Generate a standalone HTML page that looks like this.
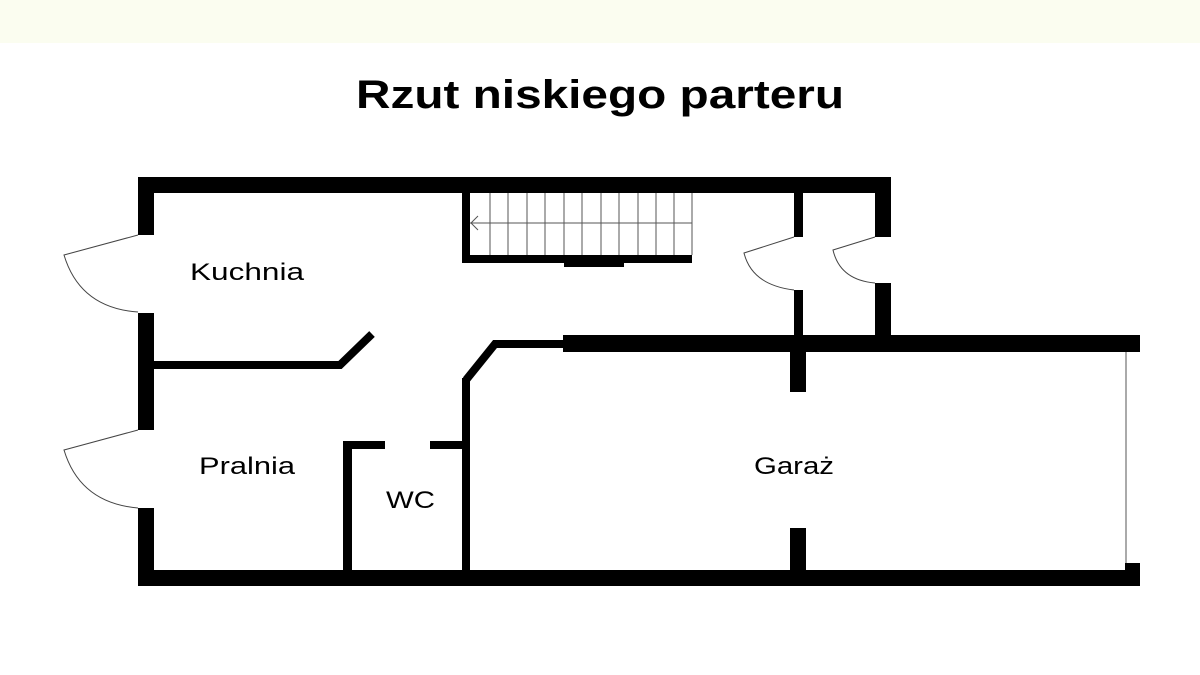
<!DOCTYPE html>
<html><head><meta charset="utf-8"><style>
html,body{margin:0;padding:0;background:#fff;}
svg{display:block;}
</style></head><body>
<svg width="1200" height="675" viewBox="0 0 1200 675" xmlns="http://www.w3.org/2000/svg">
<rect x="0" y="0" width="1200" height="675" fill="#fff"/>
<rect x="0" y="0" width="1200" height="43" fill="#fbfdf0"/>
<text x="600" y="108" text-anchor="middle" font-family="Liberation Sans, sans-serif" font-weight="bold" font-size="40" textLength="488" lengthAdjust="spacingAndGlyphs" fill="#000">Rzut niskiego parteru</text>

<g fill="#000">
<!-- outer top -->
<rect x="138" y="177" width="753" height="16"/>
<!-- left wall segments -->
<rect x="138" y="177" width="16" height="58"/>
<rect x="138" y="313" width="16" height="117"/>
<rect x="138" y="508" width="16" height="78"/>
<!-- bottom -->
<rect x="138" y="570" width="1002" height="16"/>
<!-- stairs walls -->
<rect x="462" y="193" width="8" height="70"/>
<rect x="462" y="255" width="230" height="8"/>
<rect x="564" y="255" width="60" height="12"/>
<!-- small vertical walls top right -->
<rect x="794" y="193" width="9" height="44"/>
<rect x="794" y="290" width="9" height="50"/>
<rect x="875" y="177" width="16" height="60"/>
<rect x="875" y="283" width="16" height="57"/>
<!-- garage top wall -->
<rect x="563" y="335" width="577" height="17"/>
<!-- garage posts -->
<rect x="790" y="352" width="16" height="40"/>
<rect x="790" y="528" width="16" height="45"/>
<!-- right bottom cap -->
<rect x="1125" y="563" width="15" height="23"/>
<!-- WC -->
<rect x="343" y="441" width="9" height="132"/>
<rect x="343" y="441" width="42" height="8"/>
<rect x="430" y="441" width="36" height="8"/>
<!-- vertical wall between WC and garage -->
<rect x="462" y="378" width="8" height="195"/>
</g>
<g fill="none" stroke="#000">
<!-- kitchen/laundry divider -->
<polyline points="154,365 340,365 372,334" stroke-width="8"/>
<!-- diagonal wall -->
<polyline points="466,380 495,344 565,344" stroke-width="8"/>
</g>
<!-- stair lines -->
<g stroke="#555" stroke-width="1" fill="none">
<line x1="470" y1="223" x2="692" y2="223"/>
<line x1="490" y1="193" x2="490" y2="255"/>
<line x1="508" y1="193" x2="508" y2="255"/>
<line x1="527" y1="193" x2="527" y2="255"/>
<line x1="545" y1="193" x2="545" y2="255"/>
<line x1="564" y1="193" x2="564" y2="255"/>
<line x1="582" y1="193" x2="582" y2="255"/>
<line x1="601" y1="193" x2="601" y2="255"/>
<line x1="619" y1="193" x2="619" y2="255"/>
<line x1="638" y1="193" x2="638" y2="255"/>
<line x1="656" y1="193" x2="656" y2="255"/>
<line x1="674" y1="193" x2="674" y2="255"/>
<line x1="692" y1="193" x2="692" y2="255"/>
<polyline points="478,216 471,223 478,230"/>
<!-- garage door line -->
<line x1="1126" y1="352" x2="1126" y2="563"/>
</g>
<!-- door swings -->
<g stroke="#444" stroke-width="1" fill="none">
<path d="M138,235 L64,255 Q80,308 138,312"/>
<path d="M138,430 L64,450 Q80,503 138,508"/>
<path d="M794,237 L744,253 Q752,285 794,290"/>
<path d="M875,237 L833,250 Q840,280 875,283"/>
</g>
<g font-family="Liberation Sans, sans-serif" font-size="24" fill="#000">
<text x="190" y="280" textLength="114" lengthAdjust="spacingAndGlyphs">Kuchnia</text>
<text x="199" y="474" textLength="96" lengthAdjust="spacingAndGlyphs">Pralnia</text>
<text x="386" y="508" textLength="49" lengthAdjust="spacingAndGlyphs">WC</text>
<text x="754" y="474" textLength="80" lengthAdjust="spacingAndGlyphs">Garaż</text>
</g>
</svg>
</body></html>
